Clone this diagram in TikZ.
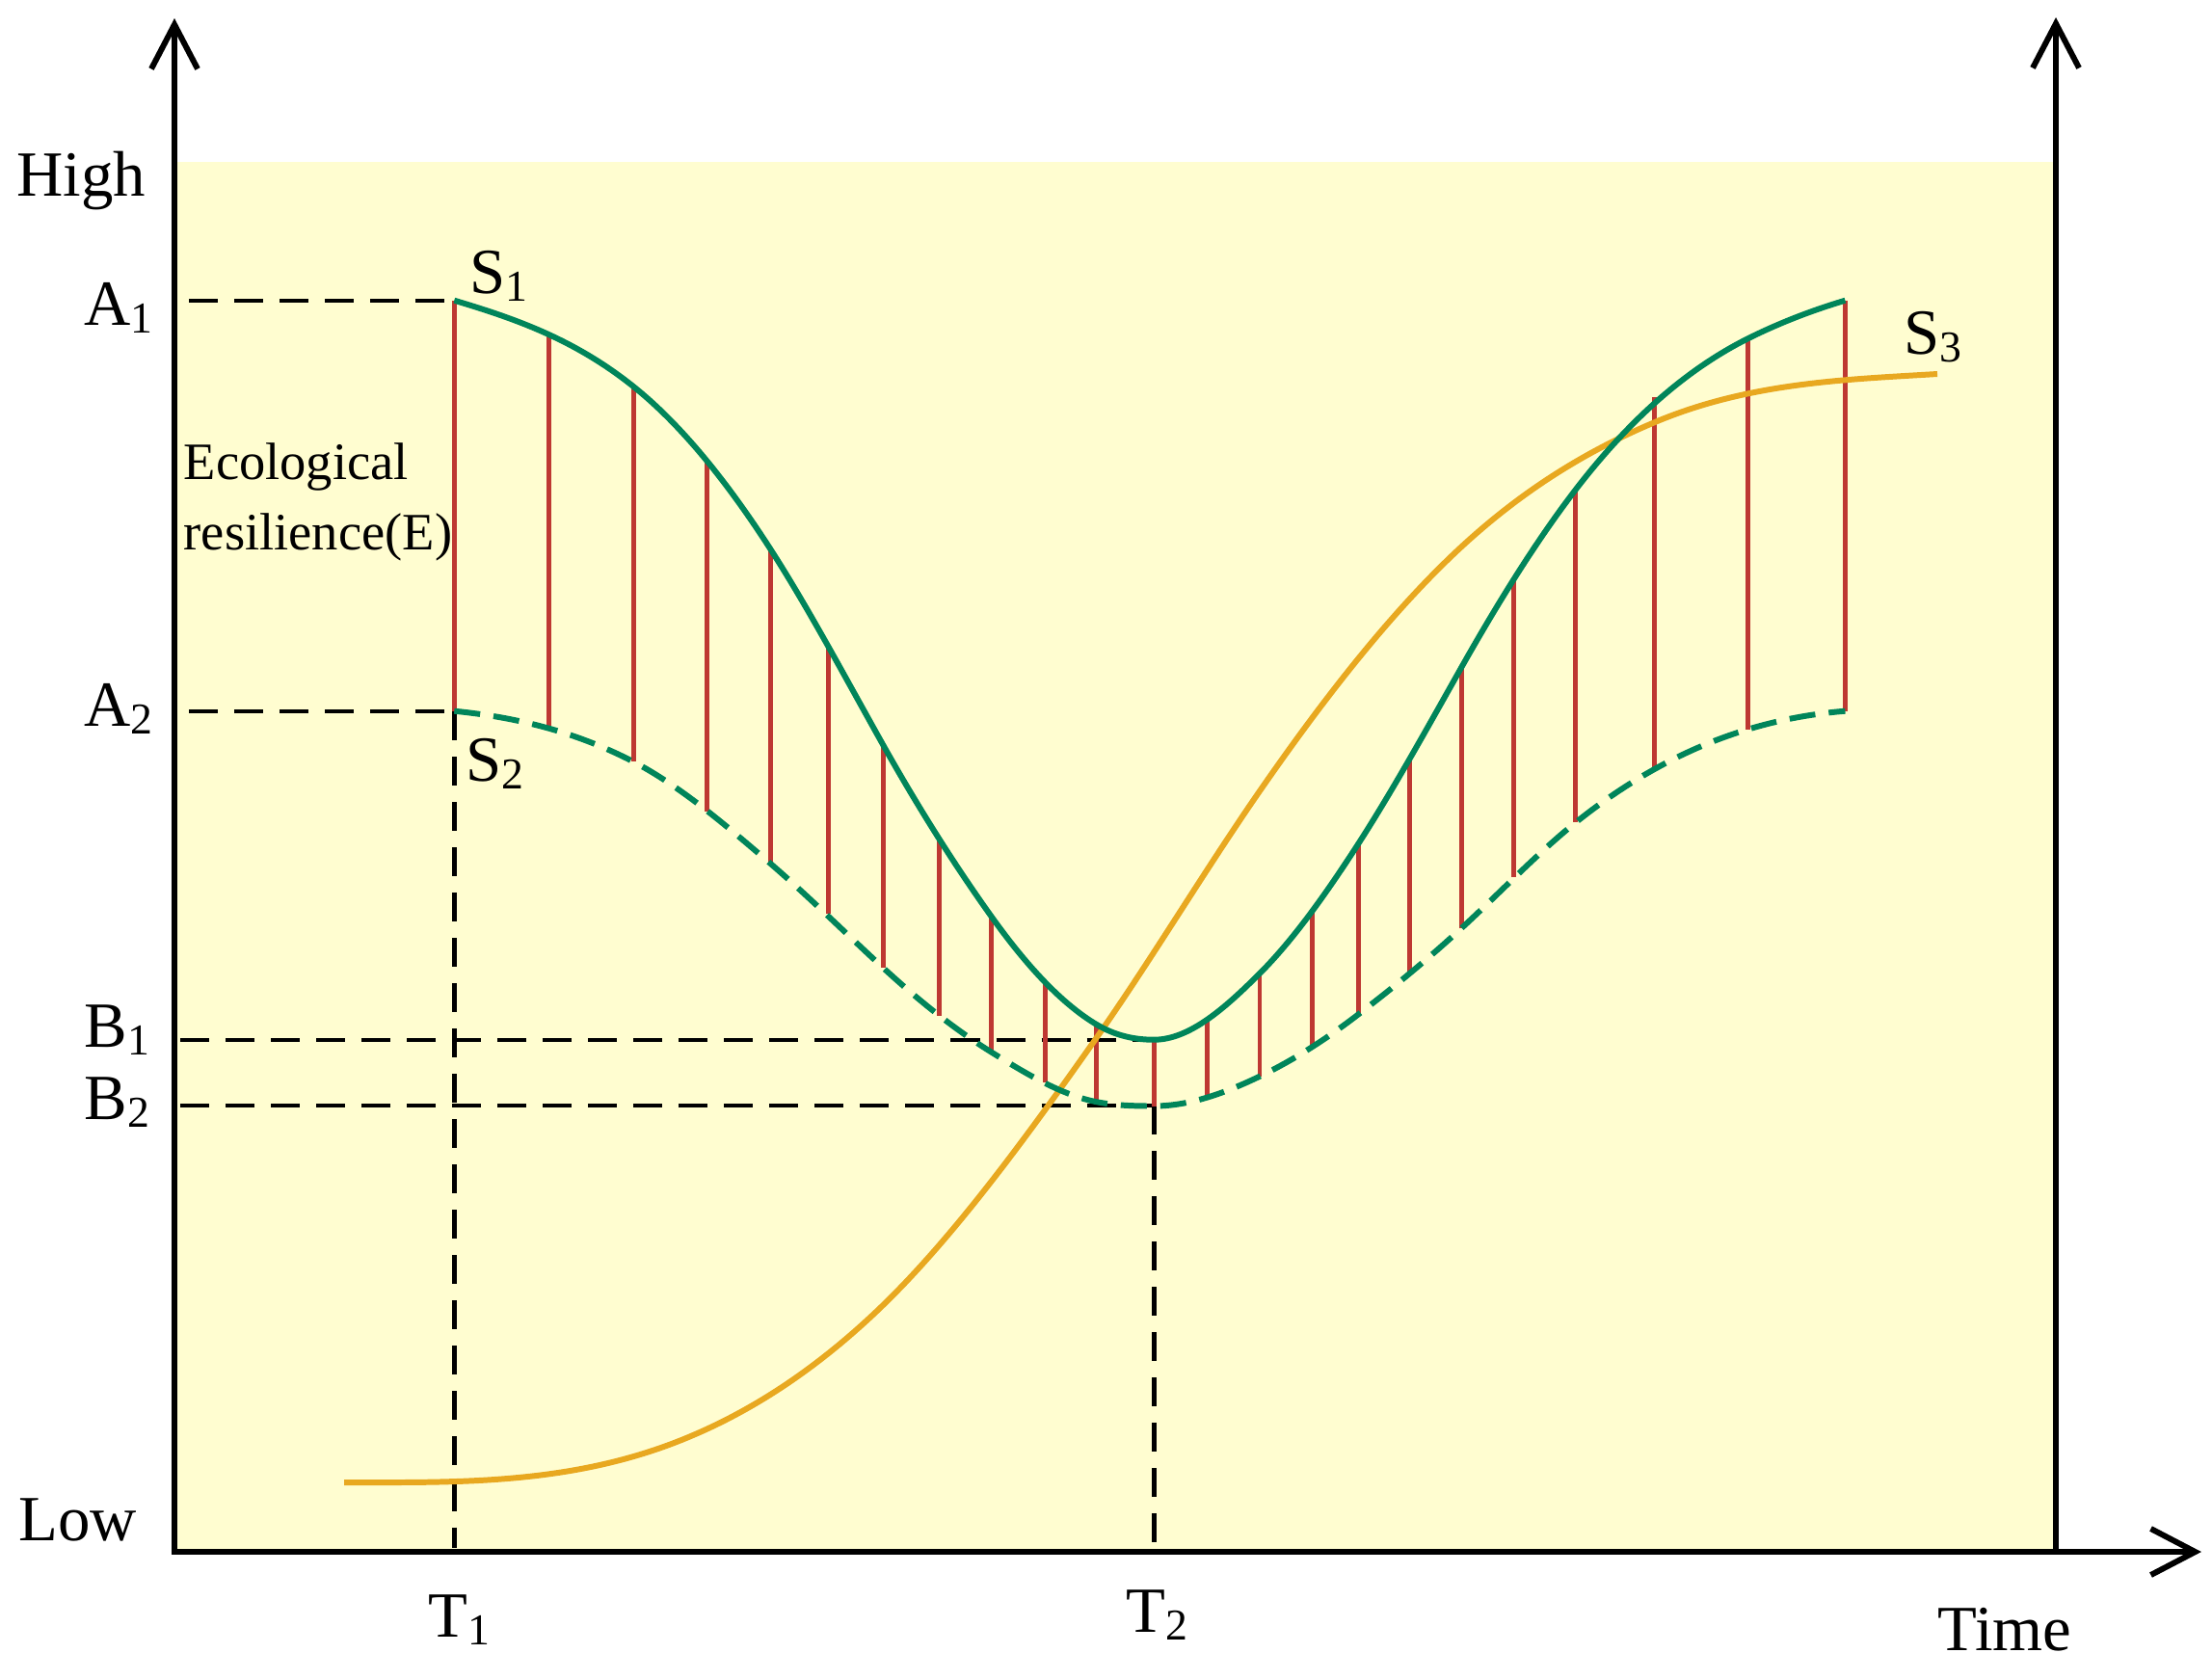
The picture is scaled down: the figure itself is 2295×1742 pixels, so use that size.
\documentclass[tikz,border=0pt]{standalone}
\usepackage{fontspec}
\setmainfont{Liberation Serif}
\usetikzlibrary{arrows.meta}
\definecolor{bgyellow}{RGB}{255,253,208}
\definecolor{sgreen}{RGB}{0,133,90}
\definecolor{sred}{RGB}{190,56,50}
\definecolor{sorange}{RGB}{232,168,32}
\newcommand\sbs[1]{\raisebox{-0.13em}{\fontsize{13}{13}\selectfont #1}}
\begin{document}
\begin{tikzpicture}[x=0.01cm,y=-0.01cm,
  axisline/.style={line width=1.7pt, black, -{Straight Barb[length=0.46cm,width=0.48cm,line width=1.7pt]}},
  guide/.style={line width=1.4pt, black, dash pattern=on 0.3cm off 0.17cm},
  redline/.style={line width=1.4pt, sred},
  greenline/.style={line width=1.7pt, sgreen},
  greendash/.style={line width=1.7pt, sgreen, dash pattern=on 0.27cm off 0.14cm},
  orangeline/.style={line width=1.7pt, sorange},
  lab/.style={font=\fontsize{19}{22}\selectfont, inner sep=0pt, anchor=base west},
  small/.style={font=\fontsize{15.5}{18}\selectfont, inner sep=0pt, anchor=base west}
]
\useasboundingbox (0,0) rectangle (2295,1742);
% background
\fill[bgyellow] (181,168) rectangle (2133,1610);

% guide lines
\coordinate (a1l) at (196,312);
\coordinate (a1r) at (471.3,312);
\coordinate (a2l) at (196,738);
\coordinate (a2r) at (471.3,738);
\coordinate (b1l) at (187,1079);
\coordinate (b1r) at (1197.2,1079);
\coordinate (b2l) at (187,1147);
\coordinate (b2r) at (1197.2,1147);
\coordinate (t1b) at (471.3,1606);
\coordinate (t2b) at (1197.2,1606);
\draw[guide] (a1l) -- (a1r);
\draw[guide] (a2l) -- (a2r);
\draw[guide] (b1l) -- (b1r);
\draw[guide] (b2l) -- (b2r);
\draw[guide] (a2r) -- (t1b);
\draw[guide] (b2r) -- (t2b);

% red verticals
\foreach \x/\a/\b in {471.3/311.7/737.7, 569.3/347.5/755.7, 657.2/401.0/790.3,
  733.3/480.1/841.6, 799.1/569.3/895.7, 859.1/671.8/948.4, 916.2/772.8/1004.0,
  974.8/872.3/1053.8, 1028.9/951.3/1091.8, 1084.5/1020.1/1122.6,
  1137.2/1062.6/1143.1, 1197.2/1078.7/1147.5, 1252.8/1058.2/1138.7,
  1307.0/1009.9/1116.7, 1361.1/945.5/1087.5, 1409.4/875.2/1052.3,
  1462.1/787.4/1009.9, 1516.3/692.3/963.0, 1570.4/598.6/910.4,
  1634.8/507.9/853.3, 1716.8/412.0/797.7, 1813.4/351.3/756.7, 1914.4/311.7/737.7}
  \draw[redline] (\x,\a) -- (\x,\b);

% orange S3
\draw[orangeline] (357,1538) .. controls (473.7,1538) and (590.3,1540.7) .. (707,1494)
  .. controls (774.7,1466.9) and (842.3,1424.3) .. (910,1360)
  .. controls (985.3,1288.4) and (1060.7,1186.0) .. (1136,1079)
  .. controls (1192,999.5) and (1248,906.2) .. (1304,825)
  .. controls (1372,726.4) and (1440,639.6) .. (1508,575)
  .. controls (1577.7,508.8) and (1647.3,467.3) .. (1717,438)
  .. controls (1814.7,397.0) and (1912.3,393.9) .. (2010,388);

% green S1 (solid)
\draw[greenline] (471.3,311.7)
  .. controls (533.3,330.3) and (595.2,351.4) .. (657.2,401.0)
  .. controls (704.5,438.8) and (751.8,496.0) .. (799.1,569.3)
  .. controls (838.1,629.8) and (877.2,703.3) .. (916.2,772.8)
  .. controls (953.8,839.7) and (991.3,898.7) .. (1028.9,951.3)
  .. controls (1065.0,1001.8) and (1101.1,1040.9) .. (1137.2,1062.6)
  .. controls (1157.2,1074.6) and (1177.2,1078.7) .. (1197.2,1078.7)
  .. controls (1233.8,1078.7) and (1270.4,1046.5) .. (1307.0,1009.9)
  .. controls (1341.1,975.8) and (1375.3,928.1) .. (1409.4,875.2)
  .. controls (1445.0,820.0) and (1480.7,755.4) .. (1516.3,692.3)
  .. controls (1555.8,622.4) and (1595.3,559.3) .. (1634.8,507.9)
  .. controls (1694.3,430.5) and (1753.9,381.1) .. (1813.4,351.3)
  .. controls (1847.1,334.5) and (1880.7,321.8) .. (1914.4,311.7);

% green S2 (dashed)
\draw[greendash] (471.3,737.7)
  .. controls (533.3,743.9) and (595.2,758.1) .. (657.2,790.3)
  .. controls (704.5,814.9) and (751.8,855.0) .. (799.1,895.7)
  .. controls (838.1,929.3) and (877.2,968.1) .. (916.2,1004.0)
  .. controls (953.8,1038.6) and (991.3,1068.5) .. (1028.9,1091.8)
  .. controls (1065.0,1114.2) and (1101.1,1135.9) .. (1137.2,1143.1)
  .. controls (1157.2,1147.1) and (1177.2,1147.5) .. (1197.2,1147.5)
  .. controls (1233.8,1147.5) and (1270.4,1134.3) .. (1307.0,1116.7)
  .. controls (1341.1,1100.3) and (1375.3,1078.6) .. (1409.4,1052.3)
  .. controls (1445.0,1024.9) and (1480.7,995.8) .. (1516.3,963.0)
  .. controls (1555.8,926.7) and (1595.3,884.9) .. (1634.8,853.3)
  .. controls (1694.3,805.7) and (1753.9,774.6) .. (1813.4,756.7)
  .. controls (1847.1,746.6) and (1880.7,740.4) .. (1914.4,737.7);

% axes
\coordinate (origin) at (181,1610);
\coordinate (ytop) at (181,19);
\coordinate (rbot) at (2133,1610);
\coordinate (rtop) at (2133,18);
\coordinate (xend) at (2284,1610);
\draw[axisline] (origin) -- (ytop);
\draw[axisline] (rbot) -- (rtop);
\draw[axisline] ([xshift=-0.8pt]origin) -- (xend);

% labels
\node[lab] (high) at (17,203) {High};
\node[lab] (low) at (19,1598) {Low};
\node[lab] (A1) at (87,337) {A\sbs{1}};
\node[lab] (A2) at (87,753) {A\sbs{2}};
\node[lab] (B1) at (87,1086) {B\sbs{1}};
\node[lab] (B2) at (87,1161) {B\sbs{2}};
\node[lab] (T1) at (444,1698) {T\sbs{1}};
\node[lab] (T2) at (1168,1693) {T\sbs{2}};
\node[lab] (time) at (2010,1712) {Time};
\node[lab] (S1) at (487,304) {S\sbs{1}};
\node[lab] (S2) at (483,810) {S\sbs{2}};
\node[lab] (S3) at (1975,367) {S\sbs{3}};
\node[small] (eco1) at (190,497) {Ecological};
\node[small] (eco2) at (190,570) {resilience(E)};
\end{tikzpicture}
\end{document}
